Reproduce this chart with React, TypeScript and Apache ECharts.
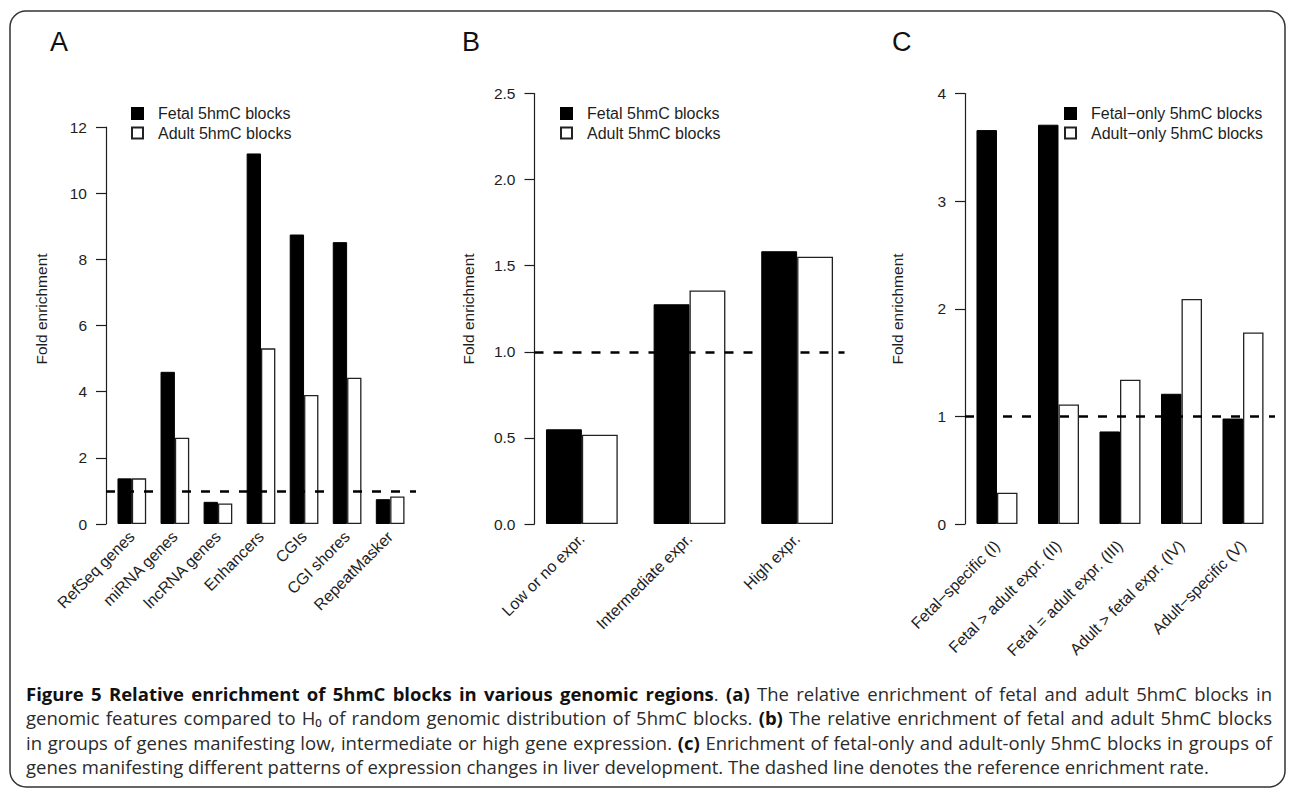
import React, { useEffect, useRef } from "react";
import * as echarts from "echarts";

// ---------- data ----------
const CATS_A = ["RefSeq genes", "miRNA genes", "lncRNA genes", "Enhancers", "CGIs", "CGI shores", "RepeatMasker"];
const FETAL_A = [1.38, 4.6, 0.67, 11.2, 8.75, 8.52, 0.75];
const ADULT_A = [1.38, 2.61, 0.62, 5.31, 3.9, 4.42, 0.83];
const SERIES_A = ["Fetal 5hmC blocks", "Adult 5hmC blocks"];
const TICKS_A = [0, 2, 4, 6, 8, 10, 12];

const CATS_B = ["Low or no expr.", "Intermediate expr.", "High expr."];
const FETAL_B = [0.55, 1.276, 1.584];
const ADULT_B = [0.518, 1.356, 1.552];
const SERIES_B = ["Fetal 5hmC blocks", "Adult 5hmC blocks"];
const TICKS_B = [0, 0.5, 1, 1.5, 2, 2.5];

const CATS_C = [
  "Fetal\u2212specific (I)",
  "Fetal > adult expr. (II)",
  "Fetal = adult expr. (III)",
  "Adult > fetal expr. (IV)",
  "Adult\u2212specific (V)",
];
const FETAL_C = [3.66, 3.71, 0.86, 1.21, 0.98];
const ADULT_C = [0.29, 1.11, 1.34, 2.09, 1.78];
const SERIES_C = ["Fetal\u2212only 5hmC blocks", "Adult\u2212only 5hmC blocks"];
const TICKS_C = [0, 1, 2, 3, 4];

const REFERENCE = 1;
const Y_TITLE = "Fold enrichment";
const LETTERS = ["A", "B", "C"];

const CAPTION = [
  "{b|Figure 5 Relative enrichment of 5hmC blocks in various genomic regions}. {b|(a)} The relative enrichment of fetal and adult 5hmC blocks in",
  "genomic features compared to H\u2080 of random genomic distribution of 5hmC blocks. {b|(b)} The relative enrichment of fetal and adult 5hmC blocks",
  "in groups of genes manifesting low, intermediate or high gene expression. {b|(c)} Enrichment of fetal-only and adult-only 5hmC blocks in groups of",
  "genes manifesting different patterns of expression changes in liver development. The dashed line denotes the reference enrichment rate.",
];

// ---------- layout ----------
const FONT = "'Liberation Sans', Arial, Helvetica, sans-serif";
const CAP_FONT_NAME = "Open Sans";
const CAP_FONT = "'Open Sans', 'Noto Sans', sans-serif";
const CAP_SIZE = 18.5;
const CAP_LEFT = 26;
const CAP_WIDTH = 1246;
const INK = "#1e1e1e";
const BOTTOM = 524;
const PLOT_W = 310;

const PANELS = [
  { cats: CATS_A, fetal: FETAL_A, adult: ADULT_A, names: SERIES_A, ticks: TICKS_A, digits: 0,
    axisX: 106, top: 127, letterX: 50, legendX: 131, labelMargin: 10, titleX: 41 },
  { cats: CATS_B, fetal: FETAL_B, adult: ADULT_B, names: SERIES_B, ticks: TICKS_B, digits: 1,
    axisX: 534.5, top: 93.5, letterX: 462, legendX: 560, labelMargin: 12, titleX: 468 },
  { cats: CATS_C, fetal: FETAL_C, adult: ADULT_C, names: SERIES_C, ticks: TICKS_C, digits: 0,
    axisX: 965, top: 93.5, letterX: 892, legendX: 1064, labelMargin: 19, titleX: 897.5 },
];

type Run = { text: string; bold: boolean };

function parseWords(line: string): Run[][] {
  const runs: Run[] = [];
  const re = /\{b\|([^}]*)\}/g;
  let last = 0;
  let m: RegExpExecArray | null;
  while ((m = re.exec(line))) {
    if (m.index > last) runs.push({ text: line.slice(last, m.index), bold: false });
    runs.push({ text: m[1], bold: true });
    last = m.index + m[0].length;
  }
  if (last < line.length) runs.push({ text: line.slice(last), bold: false });
  const words: Run[][] = [];
  let cur: Run[] = [];
  runs.forEach((r) => {
    const parts = r.text.split(" ");
    parts.forEach((part, i) => {
      if (i > 0) {
        if (cur.length) words.push(cur);
        cur = [];
      }
      if (part) cur.push({ text: part, bold: r.bold });
    });
  });
  if (cur.length) words.push(cur);
  return words;
}

function buildCaption(): any[] {
  const canvas = document.createElement("canvas");
  const ctx = canvas.getContext("2d")!;
  const measure = (t: string, bold: boolean) => {
    ctx.font = `${bold ? "bold " : ""}${CAP_SIZE}px '${CAP_FONT_NAME}', sans-serif`;
    return ctx.measureText(t).width;
  };
  const spaceW = measure(" ", false);
  const out: any[] = [];
  CAPTION.forEach((line, li) => {
    const words = parseWords(line);
    const widths = words.map((w) => w.reduce((s, r) => s + measure(r.text, r.bold), 0));
    const total = widths.reduce((a, b) => a + b, 0);
    const justify = li < CAPTION.length - 1;
    const gap = justify ? (CAP_WIDTH - total) / (words.length - 1) : spaceW;
    let x = CAP_LEFT;
    words.forEach((w, wi) => {
      const text = w.map((r) => (r.bold ? `{b|${r.text}}` : r.text)).join("");
      out.push({
        type: "text",
        x,
        y: 693.5 + 24.4 * li,
        silent: true,
        style: {
          text,
          fontSize: CAP_SIZE,
          fontFamily: CAP_FONT,
          fill: "#2b2b2b",
          align: "left",
          verticalAlign: "middle",
          rich: {
            b: { fontSize: CAP_SIZE, fontFamily: CAP_FONT, fontWeight: "bold", fill: "#111" },
          },
        },
      });
      x += widths[wi] + gap;
    });
  });
  return out;
}

function buildOption() {
  const grid: any[] = [];
  const xAxis: any[] = [];
  const yAxis: any[] = [];
  const series: any[] = [];
  const legend: any[] = [];
  const graphic: any[] = [];

  PANELS.forEach((p, k) => {
    const n = p.cats.length;
    // R barplot geometry (space = c(0,1)): range in bar units, 4% padding each side
    const r = 3 * n - 1;
    const u = PLOT_W / (1.08 * r);
    const barLeft = p.axisX + (0.04 * r - 0.5) * u;
    const height = BOTTOM - p.top;
    const yMax = p.ticks[p.ticks.length - 1];
    const yMin = p.ticks[0];
    const step = p.ticks[1] - p.ticks[0];
    const gBar = 2 * k;
    const gPlot = 2 * k + 1;

    grid.push({ left: barLeft, top: p.top, width: 3 * n * u, height, containLabel: false, outerBoundsMode: "none" });
    grid.push({ left: p.axisX, top: p.top, width: PLOT_W, height, containLabel: false, outerBoundsMode: "none" });

    xAxis.push({
      type: "category",
      gridIndex: gBar,
      data: p.cats,
      axisLine: { show: false },
      axisTick: { show: false },
      splitLine: { show: false },
      axisLabel: {
        interval: 0,
        rotate: 45,
        margin: p.labelMargin,
        fontSize: 16,
        color: INK,
        fontFamily: FONT,
        hideOverlap: false,
      },
    });
    xAxis.push({ type: "value", gridIndex: gPlot, min: 0, max: 1, show: false });

    yAxis.push({ type: "value", gridIndex: gBar, min: yMin, max: yMax, show: false });
    yAxis.push({
      type: "value",
      gridIndex: gPlot,
      min: yMin,
      max: yMax,
      interval: step,
      axisLine: { show: true, lineStyle: { color: INK, width: 1.2 } },
      axisTick: { show: true, length: 10, lineStyle: { color: INK, width: 1.2 } },
      splitLine: { show: false },
      axisLabel: {
        margin: 19,
        fontSize: 15.5,
        color: INK,
        fontFamily: FONT,
        formatter: (v: number) => v.toFixed(p.digits),
      },
    });

    series.push({
      type: "bar",
      name: p.names[0],
      xAxisIndex: gBar,
      yAxisIndex: gBar,
      data: p.fetal,
      barWidth: "33.333%",
      barGap: "0%",
      silent: true,
      itemStyle: { color: "#000", borderColor: "#000", borderWidth: 1 },
    });
    series.push({
      type: "bar",
      name: p.names[1],
      xAxisIndex: gBar,
      yAxisIndex: gBar,
      data: p.adult,
      barWidth: "33.333%",
      barGap: "0%",
      silent: true,
      itemStyle: { color: "#fff", borderColor: "#222", borderWidth: 1.3 },
    });
    series.push({
      type: "line",
      xAxisIndex: gPlot,
      yAxisIndex: gPlot,
      data: [],
      z: 10,
      silent: true,
      markLine: {
        silent: true,
        symbol: ["none", "none"],
        label: { show: false },
        lineStyle: { color: "#000", width: 2.6, type: [9, 10] },
        emphasis: { disabled: true },
        data: [{ yAxis: REFERENCE }],
      },
    });

    legend.push({
      orient: "vertical",
      left: p.legendX,
      top: 105.5,
      padding: 0,
      itemWidth: 11,
      itemHeight: 11,
      itemGap: 3.5,
      icon: "rect",
      selectedMode: false,
      data: p.names,
      textStyle: { fontSize: 16, color: INK, fontFamily: FONT, lineHeight: 16, padding: [0, 0, 0, 10] },
    });

    graphic.push({
      type: "text",
      x: p.letterX,
      y: 42,
      style: { text: LETTERS[k], fontSize: 27, fontFamily: FONT, fill: "#111", align: "left", verticalAlign: "middle" },
    });
    graphic.push({
      type: "text",
      x: p.titleX,
      y: 309,
      rotation: Math.PI / 2,
      style: { text: Y_TITLE, fontSize: 15.5, fontFamily: FONT, fill: INK, align: "center", verticalAlign: "middle" },
    });
  });

  graphic.push({
    type: "rect",
    shape: { x: 10, y: 11, width: 1275, height: 776, r: 16 },
    style: { fill: "none", stroke: "#333", lineWidth: 1.5 },
    silent: true,
  });

  graphic.push(...buildCaption());

  return {
    animation: false,
    backgroundColor: "#fff",
    grid,
    xAxis,
    yAxis,
    series,
    legend,
    graphic,
    tooltip: { show: false },
  };
}

export default function App() {
  const ref = useRef<HTMLDivElement>(null);
  useEffect(() => {
    if (!ref.current) return;
    const chart = echarts.init(ref.current, null, { renderer: "svg", width: 1293, height: 789 });
    chart.setOption(buildOption());
    return () => chart.dispose();
  }, []);
  return (
    <div
      ref={ref}
      style={{ position: "absolute", left: 0, top: 0, width: 1293, height: 789, background: "#fff" }}
    />
  );
}
